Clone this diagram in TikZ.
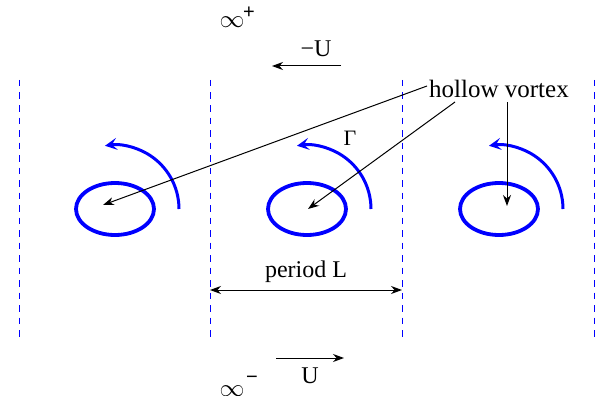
\documentclass[tikz,border=0pt]{standalone}
\usepackage{fontspec}
\setmainfont{Liberation Serif}
\setsansfont{Liberation Sans}
\usetikzlibrary{arrows.meta,shapes.geometric}
\begin{document}
\begin{tikzpicture}[x=1pt,y=-1pt,
  period/.style={blue, dash pattern=on 6.5pt off 6pt, line width=0.9pt},
  vortex/.style={blue, line width=3.8pt},
  swirl/.style={blue, line width=3pt, -{Stealth[length=12pt,width=12pt,inset=5pt]}},
  pointer/.style={black, line width=1pt, -{Stealth[length=11pt,width=8pt]}},
  lbl/.style={font=\fontsize{24}{26}\selectfont, inner sep=0pt},
  suplbl/.style={font=\sffamily\fontsize{20}{22}\selectfont, inner sep=0pt}]
\useasboundingbox (0,0) rectangle (600,396);
% period lines
\foreach \x/\n in {19/p1,210/p2,402/p3,594/p4}{
  \coordinate (\n t) at (\x,80);
  \coordinate (\n b) at (\x,337);
  \draw[period] (\n t) -- (\n b);
}
% vortices
\foreach \x/\n in {115/v1,307/v2,499/v3}{
  \node[vortex, draw, ellipse, minimum width=78pt, minimum height=52pt, inner sep=0pt] (\n) at (\x,209) {};
  \draw[swirl] (\x+64,209) arc[start angle=0, end angle=-99, radius=64];
}
% labels
\node[lbl, font=\fontsize{22}{24}\selectfont] (gamma) at (350,138) {Γ};
\node[lbl, anchor=base west, font=\fontsize{25}{27}\selectfont] (hv) at (429,98) {hollow vortex};
\coordinate (hv1) at (427,86);
\coordinate (hv2) at (455,102);
\coordinate (hv3) at (507,102);
\coordinate (t1) at (103,205);
\coordinate (t2) at (308,209);
\coordinate (t3) at (507,206);
\draw[pointer] (hv1) -- (t1);
\draw[pointer] (hv2) -- (t2);
\draw[pointer] (hv3) -- (t3);
% infinity
\node[lbl] (infp) at (232,22) {$\infty$};
\node[suplbl] (infps) at (249,13) {+};
\node[lbl] (infm) at (232,391) {$\infty$};
\node[suplbl] (infms) at (252,380) {−};
% -U
\coordinate (mua) at (341,66);
\coordinate (mub) at (272,66);
\draw[pointer] (mua) -- (mub);
\node[lbl] (mu) at (316,49) {−U};
% U
\coordinate (ua) at (276,358);
\coordinate (ub) at (344,358);
\draw[pointer] (ua) -- (ub);
\node[lbl] (u) at (310,376) {U};
% period L
\coordinate (pla) at (210,290);
\coordinate (plb) at (402,290);
\draw[black, line width=1pt, {Stealth[length=11pt,width=8pt]}-{Stealth[length=11pt,width=8pt]}] (pla) -- (plb);
\node[lbl] (pl) at (306,272) {period L};
\end{tikzpicture}
\end{document}
